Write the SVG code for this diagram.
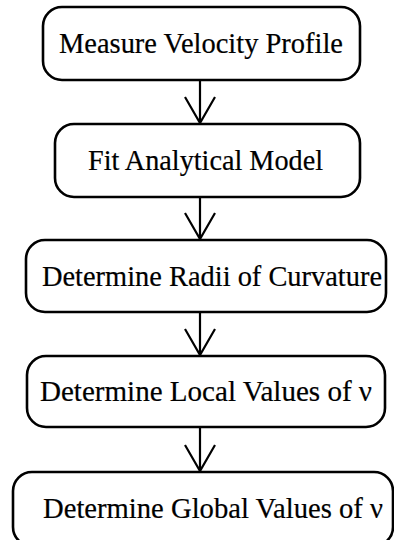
<svg xmlns="http://www.w3.org/2000/svg" width="394" height="540" viewBox="0 0 394 540">
<defs>
<style>
.box{fill:#fff;stroke:#000;stroke-width:2.6}
.lbl{font-family:"Liberation Serif","Times New Roman",serif;font-size:29px;fill:#000;stroke:#000;stroke-width:0.2}
.conn{fill:none;stroke:#000;stroke-width:2.2;stroke-linejoin:miter}
</style>
</defs>
<rect width="394" height="540" fill="#fff"/>
<g id="connectors">
<path class="conn" d="M200 80 V124 M185 97 L200 123 L215 97"/>
<path class="conn" d="M200 197 V240 M185 213 L200 239 L215 213"/>
<path class="conn" d="M200 312 V356 M185 329 L200 355 L215 329"/>
<path class="conn" d="M200 427 V472 M185 445 L200 471 L215 445"/>
</g>
<g id="n1">
<rect class="box" x="43" y="7" width="317" height="73" rx="19" ry="19"/>
<text class="lbl" x="59" y="53" textLength="284" lengthAdjust="spacingAndGlyphs">Measure Velocity Profile</text>
</g>
<g id="n2">
<rect class="box" x="55" y="124" width="305" height="73" rx="19" ry="19"/>
<text class="lbl" x="88" y="169.5" textLength="235" lengthAdjust="spacingAndGlyphs">Fit Analytical Model</text>
</g>
<g id="n3">
<rect class="box" x="26" y="240" width="360" height="72" rx="19" ry="19"/>
<text class="lbl" x="42" y="285.5" textLength="340" lengthAdjust="spacingAndGlyphs">Determine Radii of Curvature</text>
</g>
<g id="n4">
<rect class="box" x="27" y="356" width="358" height="71" rx="19" ry="19"/>
<text class="lbl" x="40" y="400.5" textLength="332" lengthAdjust="spacingAndGlyphs">Determine Local Values of ν</text>
</g>
<g id="n5">
<rect class="box" x="13" y="472" width="380" height="74" rx="19" ry="19"/>
<text class="lbl" x="43" y="517.5" textLength="340" lengthAdjust="spacingAndGlyphs">Determine Global Values of ν</text>
</g>
</svg>
